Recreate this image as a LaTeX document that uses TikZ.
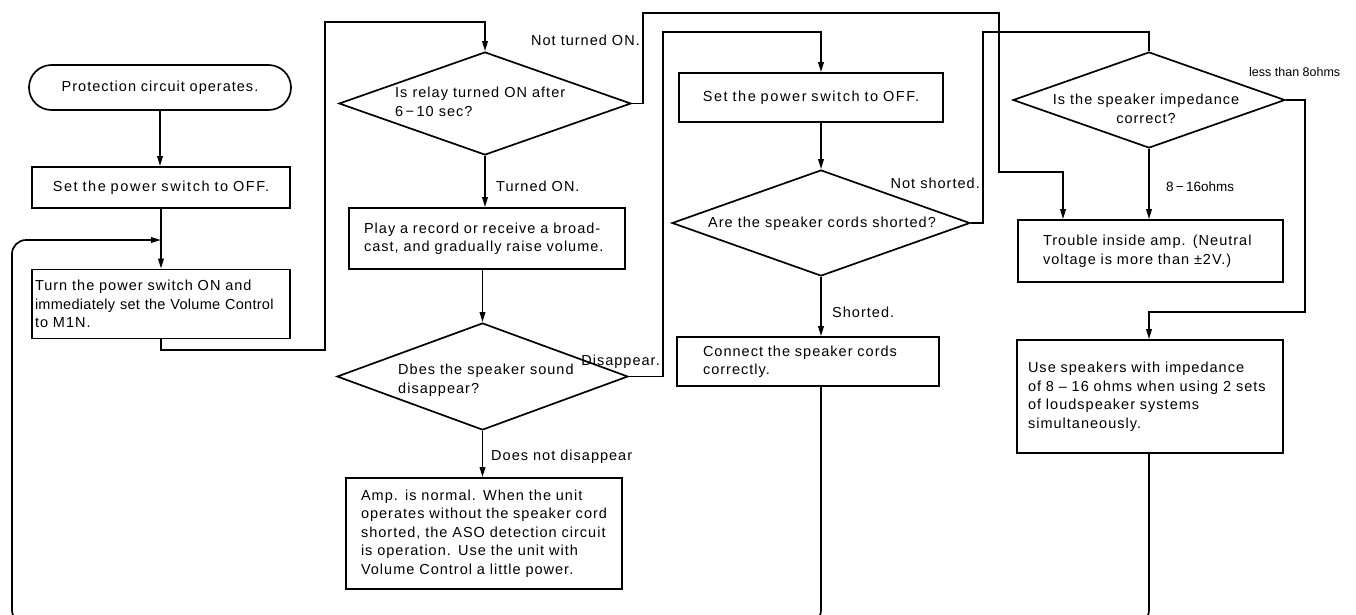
\documentclass[tikz,border=0pt]{standalone}
\usepackage{fontspec}
\setmainfont{Liberation Sans}[LetterSpace=7]
\newfontfamily\plainfont{Liberation Sans}
\usetikzlibrary{arrows.meta,shapes.geometric}
\begin{document}
\begin{tikzpicture}[x=1pt,y=-1pt,
  ln/.style={line width=1.7pt,line join=miter},
  arr/.style={ln,-{Triangle[length=10pt,width=5.5pt]}},
  txt/.style={font=\fontsize{14.5}{18.5}\selectfont},
  boxnode/.style={draw,ln,txt,inner ysep=0pt,align=left},
  dia/.style={draw,ln,diamond,inner sep=0pt},
  lbl/.style={txt,inner sep=0pt}
]
\useasboundingbox (0,0) rectangle (1356,614);

% ---------- column 1 ----------
\node[boxnode,rounded corners=22.5pt,minimum width=262pt,minimum height=45pt,align=center,inner xsep=0pt,text width=262pt] (term) at (160,87.5) {Protection circuit operates.};
\node[boxnode,minimum width=258pt,minimum height=41pt,align=center,inner xsep=0pt,text width=258pt] (set1) at (161,187.5) {\addfontfeatures{LetterSpace=11}Set the power switch to OFF.};
\node[boxnode,minimum width=258pt,minimum height=69pt,inner xsep=3pt,text width=252pt] (turn) at (161,304) {\mbox{Turn the power switch ON and}\\\mbox{\addfontfeatures{LetterSpace=2}immediately set the Volume Control}\\\mbox{to M1N.}};
\coordinate (j1) at (161,240);

% ---------- column 2 ----------
\node[dia,minimum width=292pt,minimum height=103pt] (d1) at (485,103.5) {};
\node[lbl,anchor=west,align=left] (d1t) at (395,102) {Is relay turned ON after\\6\,−\,10 sec?};
\node[boxnode,minimum width=276pt,minimum height=61pt,inner xsep=15pt,text width=246pt] (play) at (487,238.5) {\mbox{Play a record or receive a broad-}\\\mbox{cast, and gradually raise volume.}};
\node[dia,minimum width=291pt,minimum height=107pt] (d2) at (482.5,376.5) {};
\node[lbl,anchor=west,align=left] (d2t) at (398,380) {Dbes the speaker sound\\disappear?};
\node[boxnode,minimum width=276pt,minimum height=111pt,inner xsep=15pt,text width=246pt] (amp) at (484,533.5) {\mbox{Amp. is normal. When the unit}\\\mbox{operates without the speaker cord}\\\mbox{shorted, the ASO detection circuit}\\\mbox{is operation. Use the unit with}\\\mbox{Volume Control a little power.}};

% ---------- column 3 ----------
\node[boxnode,minimum width=264pt,minimum height=49pt,align=center,inner xsep=0pt,text width=264pt] (set2) at (811,97.5) {\addfontfeatures{LetterSpace=11}Set the power switch to OFF.};
\node[dia,minimum width=298pt,minimum height=106pt] (d3) at (821,223) {};
\node[lbl] (d3t) at (822,224) {Are the speaker cords shorted?};
\node[boxnode,minimum width=262pt,minimum height=49pt,inner xsep=26pt,text width=210pt] (conn) at (808,361.5) {Connect the speaker cords\\correctly.};

% ---------- column 4 ----------
\node[dia,minimum width=272pt,minimum height=96pt] (d4) at (1149,100) {};
\node[lbl,align=center] (d4t) at (1146,109) {Is the speaker impedance\\correct?};
\node[boxnode,minimum width=265pt,minimum height=62pt,inner xsep=25pt,text width=215pt] (trouble) at (1150.5,251) {\mbox{Trouble inside amp. (Neutral}\\\mbox{voltage is more than ±2V.)}};
\node[boxnode,minimum width=266pt,minimum height=113pt,inner xsep=11pt,text width=244pt] (use) at (1150,396.5) {\mbox{Use speakers with impedance}\\\mbox{of 8 – 16 ohms when using 2 sets}\\\mbox{of loudspeaker systems}\\\mbox{simultaneously.}\\[4pt]};

% ---------- labels ----------
\node[lbl,anchor=east] (l1) at (640,40) {Not turned ON.};
\node[lbl,anchor=west] (l2) at (496,186) {Turned ON.};
\node[lbl,anchor=east] (l3) at (660,362) {Disappear.};
\node[lbl,anchor=west] (l4) at (491,457) {Does not disappear};
\node[lbl,anchor=east] (l5) at (980,183) {Not shorted.};
\node[lbl,anchor=west] (l6) at (832,312) {Shorted.};
\node[inner sep=0pt,anchor=west,font=\plainfont\fontsize{12.5}{15}\selectfont] (l7) at (1249,72) {less than 8ohms};
\node[inner sep=0pt,anchor=west,font=\plainfont\fontsize{13.5}{15}\selectfont] (l8) at (1166,187) {8\,−\,16ohms};

% ---------- helper coordinates ----------
\coordinate (tx) at (1063,172);

% ---------- connectors ----------
\draw[arr] (term.south) -- (term.south |- set1.north);
\draw[arr] (set1.south) -- (set1.south |- turn.north);
\draw[arr] (turn.south) |- (325,350) |- (485,22) -- (d1.north);
\draw[arr] (d1.east) -- (643,103.5) |- (999,13) |- (tx) -- (trouble.north -| tx);
\draw[arr] (d1.south) -- (d1.south |- play.north);
\draw[arr] (d2.north |- play.south) -- (d2.north);
\draw[arr] (d2.east) -- (663,376.5) |- (821,32) -- (d3.north |- set2.north);
\draw[arr] (d2.south) -- (d2.south |- amp.north);
\draw[arr] (d3.north |- set2.south) -- (d3.north);
\draw[ln] (d3.east) -- (983,223) |- (1149,32) -- (d4.north);
\draw[arr] (d3.south) -- (d3.south |- conn.north);
\draw[arr] (d4.south) -- (d4.south |- trouble.north);
\draw[arr] (d4.east) -- (1305,100) |- (1149,312) -- (use.north -| d4.south);
\draw[arr] (use.south -| d4.south) [rounded corners=14pt] -- (1149,624) -- (12,624) -- (12,240) [sharp corners] -- (j1);
\draw[ln] (conn.south -| d3.south) [rounded corners=14pt] -- (821,624) -- (790,624);
\end{tikzpicture}
\end{document}
